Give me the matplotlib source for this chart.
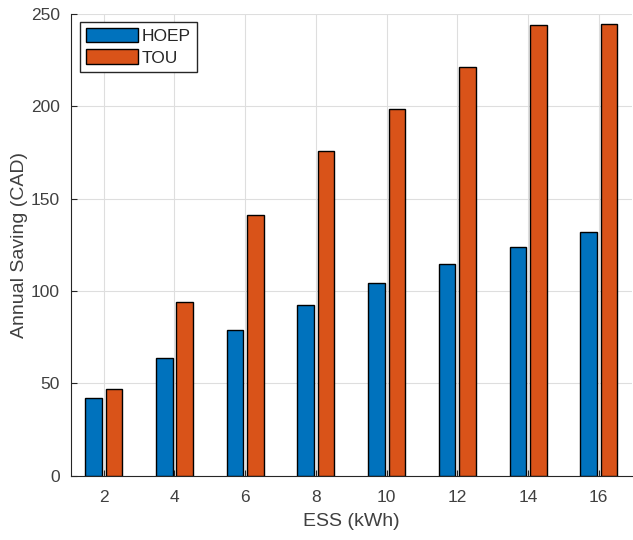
import numpy as np
import matplotlib.pyplot as plt

plt.rcParams['font.family'] = ['Liberation Sans', 'DejaVu Sans']

ess = [2, 4, 6, 8, 10, 12, 14, 16]
hoep = [42, 63.5, 79, 92.5, 104.5, 114.5, 124, 132]
tou = [47, 94, 141, 176, 198.5, 221.5, 244, 244.5]

blue = '#0072BD'
orange = '#D95319'
axis_col = '#404040'

fig = plt.figure(figsize=(6.33, 5.4), dpi=100)
ax = fig.add_axes([0.112, 0.119, 0.887, 0.855])

x = np.array(ess, dtype=float)
w = 0.47
ax.bar(x - 0.29, hoep, width=w, color=blue, edgecolor='black', linewidth=1.0, label='HOEP', zorder=3)
ax.bar(x + 0.29, tou, width=w, color=orange, edgecolor='black', linewidth=1.0, label='TOU', zorder=3)

ax.set_xlim(1.07, 16.95)
ax.set_ylim(0, 250)
ax.set_xticks(ess)
ax.set_yticks([0, 50, 100, 150, 200, 250])
ax.grid(True, color='#dedede', linewidth=0.8, zorder=0)
ax.set_axisbelow(True)

for s in ['top', 'right']:
    ax.spines[s].set_visible(False)
for s in ['left', 'bottom']:
    ax.spines[s].set_color('#262626')
    ax.spines[s].set_linewidth(0.8)
ax.tick_params(direction='in', length=4, width=0.8, colors='#262626', labelcolor=axis_col,
               labelsize=12.5, pad=8)
ax.tick_params(axis='x', pad=10)

ax.set_xlabel('ESS (kWh)', fontsize=14, color=axis_col, labelpad=6)
ax.set_ylabel('Annual Saving (CAD)', fontsize=14, color=axis_col, labelpad=2)

leg = ax.legend(loc='upper left', bbox_to_anchor=(0.016, 0.983), borderaxespad=0,
                fontsize=12.5, handlelength=3.0, handleheight=0.9, handletextpad=0.2,
                labelspacing=0.3, borderpad=0.35, fancybox=False, framealpha=1)
leg.get_frame().set_edgecolor('#262626')
leg.get_frame().set_linewidth(1.0)
for t in leg.get_texts():
    t.set_color('#262626')

fig.savefig('out.png', dpi=100)
